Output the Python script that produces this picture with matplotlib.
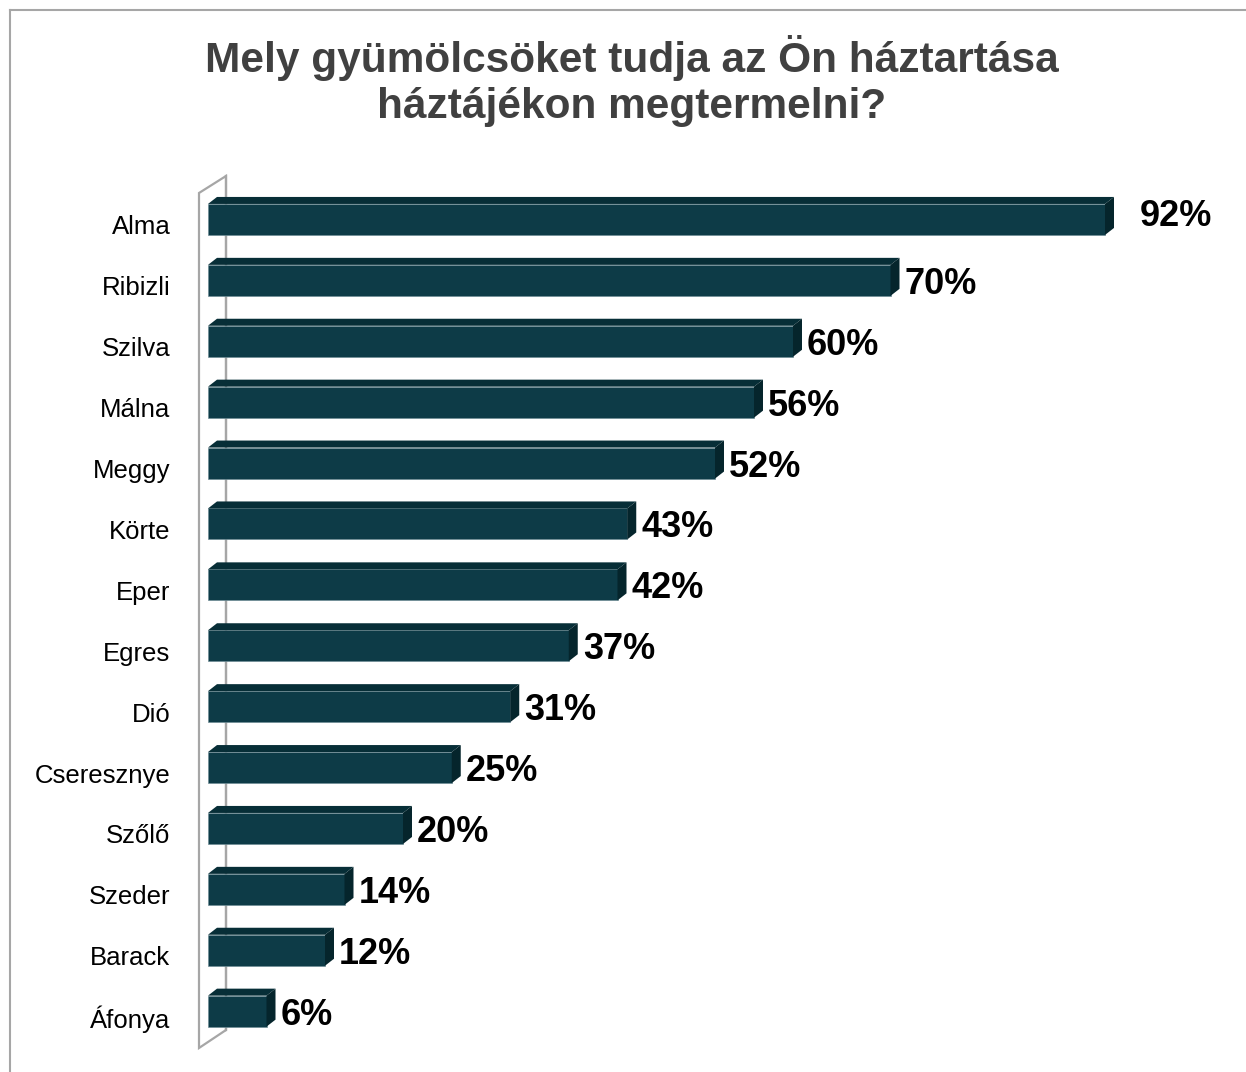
import matplotlib.pyplot as plt
from matplotlib.patches import Polygon
from matplotlib.lines import Line2D
from matplotlib.transforms import ScaledTranslation

plt.rcParams['font.family'] = ['Liberation Sans', 'DejaVu Sans']

categories = ["Alma", "Ribizli", "Szilva", "Málna", "Meggy", "Körte", "Eper",
              "Egres", "Dió", "Cseresznye", "Szőlő", "Szeder", "Barack", "Áfonya"]
values = [92, 70, 60, 56, 52, 43, 42, 37, 31, 25, 20, 14, 12, 6]
value_labels = ["92%", "70%", "60%", "56%", "52%", "43%", "42%",
                "37%", "31%", "25%", "20%", "14%", "12%", "6%"]
title = "Mely gyümölcsöket tudja az Ön háztartása\nháztájékon megtermelni?"

front_col = "#0d3b47"
top_col = "#072e37"
side_col = "#05252c"
wall_col = "#a6a6a6"

W, H = 1246, 1072
fig = plt.figure(figsize=(W / 100, H / 100), dpi=100)

# axes placed so one percent ~ 9.75 px, one row ~ 60.9 px
px_per_pct = 9.75
row_px = 60.9
ax_left, ax_right = 208, 1218
ax_top, ax_bot = 189.0, 189.0 + 14 * row_px
ax = fig.add_axes([ax_left / W, 1 - ax_bot / H, (ax_right - ax_left) / W, (ax_bot - ax_top) / H])
ax.set_xlim(0, (ax_right - ax_left) / px_per_pct)
ax.set_ylim(13.5, -0.5)

bh = 31 / row_px
dx = 9 / px_per_pct
dy = 7 / row_px

# side wall behind the bars
def py(p):
    return (p - ax_top) / row_px - 0.5

def pxx(p):
    return (p - ax_left) / px_per_pct

wall_x = [pxx(226), pxx(226), pxx(199), pxx(199), pxx(226), pxx(226)]
wall_y = [py(1030), py(176), py(193), py(1048), py(1030), py(176)]
ax.plot(wall_x, wall_y, color=wall_col, lw=1.6, clip_on=False, zorder=1,
        solid_joinstyle='miter')

for i, (v, lab) in enumerate(zip(values, value_labels)):
    top = i - bh / 2
    bot = i + bh / 2
    ax.barh(i, v, height=bh, left=0, color=front_col, edgecolor="#6f8d96",
            linewidth=0.5, zorder=3)
    ax.add_patch(Polygon([(0, top), (v, top), (v + dx, top - dy), (dx, top - dy)],
                         closed=True, facecolor=top_col, edgecolor="none", zorder=3))
    ax.add_patch(Polygon([(v, top), (v + dx, top - dy), (v + dx, bot - dy), (v, bot)],
                         closed=True, facecolor=side_col, edgecolor="none", zorder=3))
    xo, yo = 5, 0
    if i == 0:
        xo, yo = 26, 7
    ax.annotate(lab, (v + dx, i), xytext=(xo, yo), textcoords="offset pixels",
                ha="left", va="center_baseline", fontsize=26, fontweight="bold",
                color="black", zorder=4)

# category labels via the y axis
for s in ax.spines.values():
    s.set_visible(False)
ax.set_xticks([])
ax.set_yticks(range(len(categories)))
ax.set_yticklabels(categories, fontsize=18.5)
ax.tick_params(axis="y", length=0, pad=27)
for t in ax.get_yticklabels():
    t.set_transform(t.get_transform() + ScaledTranslation(0, -5.5 / 100, fig.dpi_scale_trans))

fig.text(632 / W, 1 - 81 / H, title, ha="center", va="center", fontsize=30.5,
         fontweight="bold", color="#404040", linespacing=1.22)

# chart border (cut off at right and bottom)
fig.add_artist(Line2D([9.5 / W, 1], [1 - 9.5 / H, 1 - 9.5 / H], color=wall_col, lw=1.5))
fig.add_artist(Line2D([9.5 / W, 9.5 / W], [0, 1 - 9.5 / H], color=wall_col, lw=1.5))

fig.savefig("out.png", dpi=100)
